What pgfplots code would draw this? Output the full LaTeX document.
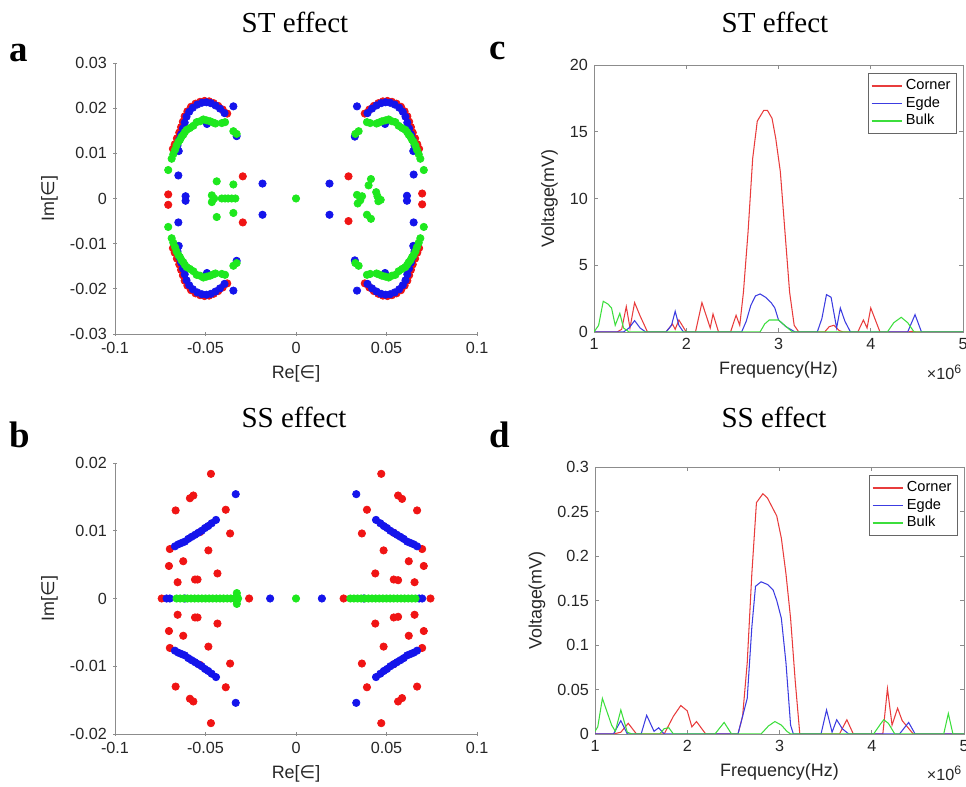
\documentclass[border=0pt]{standalone}
\usepackage{fontspec}
\setmainfont{Liberation Sans}
\newfontfamily\timesf{Liberation Serif}
\newfontfamily\dejavu{DejaVu Sans}
\usepackage{pgfplots}
\pgfplotsset{compat=1.18}

\definecolor{dred}{RGB}{240,20,20}
\definecolor{dblue}{RGB}{20,20,235}
\definecolor{dgreen}{RGB}{30,232,30}
\definecolor{lred}{RGB}{232,60,60}
\definecolor{lblue}{RGB}{60,60,225}
\definecolor{lgreen}{RGB}{60,222,60}

\pgfplotsset{
  base/.style={
    scale only axis,
    axis line style={black!45, line width=0.5pt},
    tick style={black!45, line width=0.5pt},
    tick align=inside,
    major tick length=0.08cm,
    scaled ticks=false,
    ticklabel style={font=\fontsize{9.2}{10}\selectfont, text=black!85},
    label style={font=\fontsize{10.2}{12}\selectfont, text=black!85},
  },
  eig/.style={
    base,
    width=7.24cm, height=5.42cm,
    axis lines=left,
    axis line style={-},
    xmin=-0.1, xmax=0.1,
    xtick={-0.1,-0.05,0,0.05,0.1},
    xticklabels={-0.1,-0.05,0,0.05,0.1},
    xlabel={Re[{\dejavu ∈}]},
    ylabel={Im[{\dejavu ∈}]},
  },
  spec/.style={
    base,
    width=7.38cm, height=5.34cm,
    xmin=1, xmax=5,
    xtick={1,2,3,4,5},
    xticklabels={1,2,3,4,5},
    xlabel={Frequency(Hz)},
    ylabel={Voltage(mV)},
    legend style={at={(1,1)}, anchor=north east, xshift=-0.12cm, yshift=-0.16cm,
      draw=black!60, font=\fontsize{8.3}{9}\selectfont, inner sep=1.5pt,
      row sep=-1.5pt, cells={anchor=west}},
  },
  dots/.style={only marks, mark=*, mark size=2.1pt, color=#1},
}

\begin{document}
\begin{tikzpicture}
\useasboundingbox (0,0) rectangle (19.32,15.74);
\clip (0,0) rectangle (19.32,15.74);

% ---------------- a: ST effect, eigenvalues
\begin{axis}[eig, at={(2.30cm,9.06cm)}, anchor=south west,
  ymin=-0.03, ymax=0.03,
  ytick={-0.03,-0.02,-0.01,0,0.01,0.02,0.03},
  yticklabels={-0.03,-0.02,-0.01,0,0.01,0.02,0.03}]
\addplot[dots=dred] coordinates {
 (0.038,0.0188)(0.0405,0.0197)(0.043,0.0205)(0.0455,0.0211)(0.048,0.0215)(0.0505,0.0216)(0.053,0.0214)(0.0555,0.0210)(0.058,0.0203)(0.060,0.0193)(0.0615,0.0182)(0.0625,0.0170)(0.0635,0.0158)(0.0645,0.0146)(0.0658,0.0133)(0.067,0.0120)(0.068,0.0110)
 (-0.038,0.0188)(-0.0405,0.0197)(-0.043,0.0205)(-0.0455,0.0211)(-0.048,0.0215)(-0.0505,0.0216)(-0.053,0.0214)(-0.0555,0.0210)(-0.058,0.0203)(-0.060,0.0193)(-0.0615,0.0182)(-0.0625,0.0170)(-0.0635,0.0158)(-0.0645,0.0146)(-0.0658,0.0133)(-0.067,0.0120)(-0.068,0.0110)
 (0.038,-0.0188)(0.0405,-0.0197)(0.043,-0.0205)(0.0455,-0.0211)(0.048,-0.0215)(0.0505,-0.0216)(0.053,-0.0214)(0.0555,-0.0210)(0.058,-0.0203)(0.060,-0.0193)(0.0615,-0.0182)(0.0625,-0.0170)(0.0635,-0.0158)(0.0645,-0.0146)(0.0658,-0.0133)(0.067,-0.0120)(0.068,-0.0110)
 (-0.038,-0.0188)(-0.0405,-0.0197)(-0.043,-0.0205)(-0.0455,-0.0211)(-0.048,-0.0215)(-0.0505,-0.0216)(-0.053,-0.0214)(-0.0555,-0.0210)(-0.058,-0.0203)(-0.060,-0.0193)(-0.0615,-0.0182)(-0.0625,-0.0170)(-0.0635,-0.0158)(-0.0645,-0.0146)(-0.0658,-0.0133)(-0.067,-0.0120)(-0.068,-0.0110)
 (0.0697,0.0011)(0.0697,-0.0013)(-0.0706,0.0009)(-0.0706,-0.0014)
 (0.029,0.0049)(0.029,-0.0050)(-0.0294,0.0049)(-0.0294,-0.0053)
};
\addplot[dots=dblue] coordinates {
 (0.0395,0.0189)(0.042,0.0199)(0.0445,0.0206)(0.047,0.0211)(0.0495,0.0213)(0.052,0.0212)(0.0545,0.0208)(0.057,0.0201)(0.059,0.0192)(0.0605,0.0181)(0.0615,0.0168)(0.0625,0.0155)(0.0635,0.0142)(0.0645,0.0130)(0.0655,0.0117)(0.0648,0.0105)(0.0492,0.0165)
 (-0.0395,0.0189)(-0.042,0.0199)(-0.0445,0.0206)(-0.047,0.0211)(-0.0495,0.0213)(-0.052,0.0212)(-0.0545,0.0208)(-0.057,0.0201)(-0.059,0.0192)(-0.0605,0.0181)(-0.0615,0.0168)(-0.0625,0.0155)(-0.0635,0.0142)(-0.0645,0.0130)(-0.0655,0.0117)(-0.0648,0.0105)(-0.0492,0.0165)
 (0.0395,-0.0189)(0.042,-0.0199)(0.0445,-0.0206)(0.047,-0.0211)(0.0495,-0.0213)(0.052,-0.0212)(0.0545,-0.0208)(0.057,-0.0201)(0.059,-0.0192)(0.0605,-0.0181)(0.0615,-0.0168)(0.0625,-0.0155)(0.0635,-0.0142)(0.0645,-0.0130)(0.0655,-0.0117)(0.0648,-0.0105)(0.0492,-0.0165)
 (-0.0395,-0.0189)(-0.042,-0.0199)(-0.0445,-0.0206)(-0.047,-0.0211)(-0.0495,-0.0213)(-0.052,-0.0212)(-0.0545,-0.0208)(-0.057,-0.0201)(-0.059,-0.0192)(-0.0605,-0.0181)(-0.0615,-0.0168)(-0.0625,-0.0155)(-0.0635,-0.0142)(-0.0645,-0.0130)(-0.0655,-0.0117)(-0.0648,-0.0105)(-0.0492,-0.0165)
 (0.0337,0.0204)(0.0325,0.0137)(0.0185,0.0033)(0.065,0.0053)(0.0613,0.0006)(0.0613,-0.0005)
 (0.0337,-0.0204)(0.0325,-0.0137)(0.0185,-0.0036)(0.065,-0.0053)
 (-0.0346,0.0204)(-0.0328,0.0138)(-0.0185,0.0033)(-0.065,0.0051)(-0.061,0.0005)(-0.061,-0.0005)
 (-0.0346,-0.0204)(-0.0328,-0.0138)(-0.0185,-0.0036)(-0.065,-0.0053)
};
\addplot[dots=dgreen] coordinates {
 (0.0328,0.0143)(0.0346,0.0149)(0.0392,0.0169)(0.041,0.0167)(0.0445,0.0166)(0.0457,0.0168)(0.0475,0.0171)(0.0494,0.0173)(0.0512,0.0175)(0.053,0.0171)(0.0549,0.0169)(0.0567,0.0161)(0.0586,0.0156)(0.0604,0.0152)(0.0614,0.0147)(0.0623,0.0141)(0.0632,0.0137)(0.0641,0.0130)(0.065,0.0125)(0.066,0.0117)(0.0668,0.0108)(0.0678,0.0098)(0.0687,0.0088)(0.0706,0.0063)
 (-0.0328,0.0143)(-0.0346,0.0149)(-0.0392,0.0169)(-0.041,0.0167)(-0.0445,0.0166)(-0.0457,0.0168)(-0.0475,0.0171)(-0.0494,0.0173)(-0.0512,0.0175)(-0.053,0.0171)(-0.0549,0.0169)(-0.0567,0.0161)(-0.0586,0.0156)(-0.0604,0.0152)(-0.0614,0.0147)(-0.0623,0.0141)(-0.0632,0.0137)(-0.0641,0.0130)(-0.065,0.0125)(-0.066,0.0117)(-0.0668,0.0108)(-0.0678,0.0098)(-0.0687,0.0088)(-0.0706,0.0063)
 (0.0328,-0.0143)(0.0346,-0.0149)(0.0392,-0.0169)(0.041,-0.0167)(0.0445,-0.0166)(0.0457,-0.0168)(0.0475,-0.0171)(0.0494,-0.0173)(0.0512,-0.0175)(0.053,-0.0171)(0.0549,-0.0169)(0.0567,-0.0161)(0.0586,-0.0156)(0.0604,-0.0152)(0.0614,-0.0147)(0.0623,-0.0141)(0.0632,-0.0137)(0.0641,-0.0130)(0.065,-0.0125)(0.066,-0.0117)(0.0668,-0.0108)(0.0678,-0.0098)(0.0687,-0.0088)(0.0706,-0.0063)
 (-0.0328,-0.0143)(-0.0346,-0.0149)(-0.0392,-0.0169)(-0.041,-0.0167)(-0.0445,-0.0166)(-0.0457,-0.0168)(-0.0475,-0.0171)(-0.0494,-0.0173)(-0.0512,-0.0175)(-0.053,-0.0171)(-0.0549,-0.0169)(-0.0567,-0.0161)(-0.0586,-0.0156)(-0.0604,-0.0152)(-0.0614,-0.0147)(-0.0623,-0.0141)(-0.0632,-0.0137)(-0.0641,-0.0130)(-0.065,-0.0125)(-0.066,-0.0117)(-0.0668,-0.0108)(-0.0678,-0.0098)(-0.0687,-0.0088)(-0.0706,-0.0063)
 (0.0337,0.0008)(0.0355,-0.0004)(0.0341,-0.0011)(0.0365,0.0005)(0.0401,0.0029)(0.0392,-0.0036)(0.0414,0.0043)(0.0414,-0.0045)(0.0443,0.0014)(0.0450,0.0005)(0.0455,-0.0006)(0.0468,-0.0003)
 (-0.0465,0.0007)(-0.0465,-0.0008)(-0.0452,0)(-0.0438,0.0038)(-0.0438,-0.0041)(-0.0410,0)(-0.0392,0)(-0.0375,0)(-0.0355,0)(-0.0335,0)(-0.0346,0.0031)(-0.0346,-0.0032)
 (0,0)
};
\end{axis}

% ---------------- b: SS effect, eigenvalues
\begin{axis}[eig, at={(2.30cm,1.06cm)}, anchor=south west,
  ymin=-0.02, ymax=0.02,
  ytick={-0.02,-0.01,0,0.01,0.02},
  yticklabels={-0.02,-0.01,0,0.01,0.02}]
\addplot[dots=dred] coordinates {
 (-0.047,0.0184)(-0.0586,0.0148)(-0.0567,0.0152)(-0.0665,0.0130)(-0.0388,0.0131)(-0.0364,0.0096)(-0.0697,0.0073)(-0.0484,0.0071)(-0.0702,0.0048)(-0.0623,0.0055)(-0.0654,0.0024)(-0.0558,0.0028)(-0.0544,0.0028)(-0.0434,0.0037)(-0.0530,0.0098)
 (0.0471,0.0184)(0.0564,0.0152)(0.0586,0.0147)(0.0669,0.0130)(0.0392,0.0131)(0.0364,0.0096)(0.0697,0.0073)(0.0484,0.0071)(0.0706,0.0048)(0.0623,0.0055)(0.0655,0.0024)(0.0540,0.0028)(0.0564,0.0027)(0.0438,0.0037)(0.0540,0.0097)
 (-0.047,-0.0184)(-0.0586,-0.0148)(-0.0567,-0.0152)(-0.0665,-0.0130)(-0.0388,-0.0131)(-0.0364,-0.0096)(-0.0697,-0.0073)(-0.0484,-0.0071)(-0.0702,-0.0048)(-0.0623,-0.0055)(-0.0654,-0.0024)(-0.0558,-0.0028)(-0.0544,-0.0028)(-0.0434,-0.0037)(-0.0530,-0.0098)
 (0.0471,-0.0184)(0.0564,-0.0152)(0.0586,-0.0147)(0.0669,-0.0130)(0.0392,-0.0131)(0.0364,-0.0096)(0.0697,-0.0073)(0.0484,-0.0071)(0.0706,-0.0048)(0.0623,-0.0055)(0.0655,-0.0024)(0.0540,-0.0028)(0.0564,-0.0027)(0.0438,-0.0037)(0.0540,-0.0097)
 (-0.0742,0)(-0.0259,0)(0.0263,0)(0.0743,0)
};
\addplot[dots=dblue] coordinates {
 (-0.0669,0.0077)(-0.0650,0.0080)(-0.0632,0.0082)(-0.0614,0.0084)(-0.0595,0.0088)(-0.0577,0.0091)(-0.0558,0.0094)(-0.0540,0.0097)(-0.0521,0.0100)(-0.0503,0.0104)(-0.0485,0.0107)(-0.0466,0.0111)(-0.0442,0.0116)
 (0.0669,0.0077)(0.0650,0.0080)(0.0632,0.0082)(0.0614,0.0084)(0.0595,0.0088)(0.0577,0.0091)(0.0558,0.0094)(0.0540,0.0097)(0.0521,0.0100)(0.0503,0.0104)(0.0485,0.0107)(0.0466,0.0111)(0.0442,0.0116)
 (-0.0669,-0.0077)(-0.0650,-0.0080)(-0.0632,-0.0082)(-0.0614,-0.0084)(-0.0595,-0.0088)(-0.0577,-0.0091)(-0.0558,-0.0094)(-0.0540,-0.0097)(-0.0521,-0.0100)(-0.0503,-0.0104)(-0.0485,-0.0107)(-0.0466,-0.0111)(-0.0442,-0.0116)
 (0.0669,-0.0077)(0.0650,-0.0080)(0.0632,-0.0082)(0.0614,-0.0084)(0.0595,-0.0088)(0.0577,-0.0091)(0.0558,-0.0094)(0.0540,-0.0097)(0.0521,-0.0100)(0.0503,-0.0104)(0.0485,-0.0107)(0.0466,-0.0111)(0.0442,-0.0116)
 (-0.0333,0.0154)(0.0333,0.0154)(-0.0333,-0.0154)(0.0333,-0.0154)
 (-0.0715,0)(-0.0697,0)(-0.0614,0)(-0.0143,0)(0.0143,0)(0.0375,0)(0.0680,0)(0.0697,0)
};
\addplot[dots=dgreen] coordinates {
 (-0.066,0)(-0.064,0)(-0.062,0)(-0.060,0)(-0.058,0)(-0.056,0)(-0.054,0)(-0.052,0)(-0.050,0)(-0.048,0)(-0.046,0)(-0.044,0)(-0.042,0)(-0.040,0)(-0.038,0)(-0.036,0)(-0.034,0)(-0.032,0)
 (-0.0327,0.0008)(-0.0327,-0.0008)(-0.0327,0.0004)(-0.0327,-0.0004)
 (0,0)
 (0.030,0)(0.032,0)(0.034,0)(0.036,0)(0.038,0)(0.040,0)(0.042,0)(0.044,0)(0.046,0)(0.048,0)(0.050,0)(0.052,0)(0.054,0)(0.056,0)(0.058,0)(0.060,0)(0.062,0)(0.064,0)(0.066,0)
};
\end{axis}

% ---------------- c: ST effect, spectra
\begin{axis}[spec, at={(11.88cm,9.10cm)}, anchor=south west,
  ymin=0, ymax=20, ytick={0,5,10,15,20}, yticklabels={0,5,10,15,20}]
\addlegendimage{draw=lred, line width=0.8pt}
\addlegendentry{Corner}
\addlegendimage{draw=lblue, line width=0.8pt}
\addlegendentry{Egde}
\addlegendimage{draw=lgreen, line width=0.8pt}
\addlegendentry{Bulk}
\addplot[draw=lred, line width=0.6pt, forget plot] coordinates {
 (1.0,0)(1.25,0)(1.30,0.2)(1.35,1.9)(1.39,0.3)(1.44,2.2)(1.50,1.2)(1.58,0)(1.78,0)(1.85,0.6)(1.88,0.2)(1.92,0.9)(2.0,0)(2.1,0)(2.17,2.2)(2.26,0.3)(2.29,1.35)(2.35,0)(2.48,0)(2.54,1.25)(2.58,0.5)(2.62,3.0)(2.67,7.5)(2.72,13.0)(2.77,15.8)(2.84,16.6)(2.88,16.6)(2.93,16.0)(2.97,14.5)(3.02,12.0)(3.07,7.5)(3.12,3.0)(3.17,0.5)(3.22,0)(3.50,0)(3.55,0.4)(3.60,0.5)(3.66,0.1)(3.70,0)(3.86,0)(3.92,0.9)(3.96,0.3)(4.00,1.8)(4.10,0)(4.40,0)(4.45,0.05)(4.50,0)(5.0,0)
};
\addplot[draw=lblue, line width=0.6pt, forget plot] coordinates {
 (1.0,0)(1.32,0)(1.38,0.3)(1.44,0.85)(1.50,0.3)(1.56,0)(1.78,0)(1.84,0.5)(1.88,1.55)(1.92,0.5)(1.97,0)(2.60,0)(2.65,0.8)(2.70,2.0)(2.75,2.7)(2.80,2.85)(2.86,2.6)(2.92,2.2)(2.96,1.8)(3.00,0.9)(3.08,0.4)(3.18,0)(3.42,0)(3.47,1.0)(3.52,2.8)(3.57,2.6)(3.63,0.3)(3.67,1.8)(3.72,0.8)(3.78,0)(4.40,0)(4.48,1.3)(4.55,0)(5.0,0)
};
\addplot[draw=lgreen, line width=0.6pt, forget plot] coordinates {
 (1.0,0)(1.05,0.5)(1.10,2.3)(1.15,2.1)(1.19,1.8)(1.23,0.5)(1.28,1.4)(1.32,0.3)(1.38,0)(2.80,0)(2.85,0.6)(2.90,0.9)(3.00,0.9)(3.05,0.6)(3.15,0)(4.18,0)(4.25,0.7)(4.33,1.1)(4.40,0.7)(4.47,0)(5.0,0)
};
\end{axis}

% ---------------- d: SS effect, spectra
\begin{axis}[spec, at={(11.90cm,1.06cm)}, anchor=south west,
  ymin=0, ymax=0.3, ytick={0,0.05,0.1,0.15,0.2,0.25,0.3},
  yticklabels={0,0.05,0.1,0.15,0.2,0.25,0.3}]
\addlegendimage{draw=lred, line width=0.8pt}
\addlegendentry{Corner}
\addlegendimage{draw=lblue, line width=0.8pt}
\addlegendentry{Egde}
\addlegendimage{draw=lgreen, line width=0.8pt}
\addlegendentry{Bulk}
\addplot[draw=lred, line width=0.6pt, forget plot] coordinates {
 (1.0,0)(1.20,0)(1.28,0.002)(1.36,0.012)(1.45,0)(1.75,0)(1.85,0.02)(1.93,0.032)(2.00,0.026)(2.05,0.008)(2.10,0.014)(2.20,0)(2.55,0)(2.60,0.02)(2.65,0.08)(2.70,0.18)(2.75,0.26)(2.82,0.27)(2.87,0.265)(2.92,0.255)(2.97,0.245)(3.02,0.22)(3.07,0.18)(3.12,0.13)(3.17,0.06)(3.22,0)(3.65,0)(3.73,0.016)(3.80,0)(4.12,0)(4.17,0.051)(4.22,0.01)(4.28,0.029)(4.33,0.015)(4.45,0)(5.0,0)
};
\addplot[draw=lblue, line width=0.6pt, forget plot] coordinates {
 (1.0,0)(1.20,0)(1.28,0.015)(1.35,0)(1.50,0)(1.56,0.021)(1.64,0.003)(1.69,0.007)(1.75,0)(2.55,0)(2.60,0.02)(2.65,0.04)(2.70,0.12)(2.74,0.166)(2.80,0.171)(2.87,0.168)(2.93,0.162)(2.97,0.15)(3.02,0.13)(3.07,0.08)(3.12,0.01)(3.15,0)(3.45,0)(3.51,0.027)(3.57,0.002)(3.62,0.016)(3.68,0.006)(3.75,0)(4.30,0)(4.40,0.013)(4.47,0)(5.0,0)
};
\addplot[draw=lgreen, line width=0.6pt, forget plot] coordinates {
 (1.0,0.003)(1.03,0.008)(1.08,0.04)(1.13,0.025)(1.18,0.01)(1.22,0.003)(1.28,0.027)(1.35,0.002)(1.40,0)(1.70,0)(1.75,0.006)(1.80,0.007)(1.85,0)(2.30,0)(2.40,0.013)(2.48,0)(2.80,0)(2.88,0.009)(2.95,0.014)(3.02,0.010)(3.08,0.003)(3.12,0)(4.02,0)(4.10,0.012)(4.13,0.016)(4.18,0.012)(4.25,0)(4.78,0)(4.83,0.023)(4.88,0)(5.0,0)
};
\end{axis}

% titles, panel letters, scale labels
\node[anchor=base, font=\timesf\fontsize{16.5}{20}\selectfont] at (5.90,15.08) {ST effect};
\node[anchor=base, font=\timesf\fontsize{16.5}{20}\selectfont] at (15.50,15.08) {ST effect};
\node[anchor=base, font=\timesf\fontsize{16.5}{20}\selectfont] at (5.88,7.18) {SS effect};
\node[anchor=base, font=\timesf\fontsize{16.5}{20}\selectfont] at (15.48,7.18) {SS effect};
\node[anchor=base, font=\timesf\bfseries\fontsize{21}{24}\selectfont] at (0.38,14.50) {a};
\node[anchor=base, font=\timesf\bfseries\fontsize{21}{24}\selectfont] at (9.96,14.54) {c};
\node[anchor=base, font=\timesf\bfseries\fontsize{21}{24}\selectfont] at (0.40,6.78) {b};
\node[anchor=base, font=\timesf\bfseries\fontsize{21}{24}\selectfont] at (10.00,6.78) {d};
\node[font=\fontsize{9.2}{10}\selectfont, text=black!85] at (18.88,8.30) {×10\raisebox{0.7ex}{\fontsize{7}{8}\selectfont 6}};
\node[font=\fontsize{9.2}{10}\selectfont, text=black!85] at (18.88,0.28) {×10\raisebox{0.7ex}{\fontsize{7}{8}\selectfont 6}};
\end{tikzpicture}
\end{document}
